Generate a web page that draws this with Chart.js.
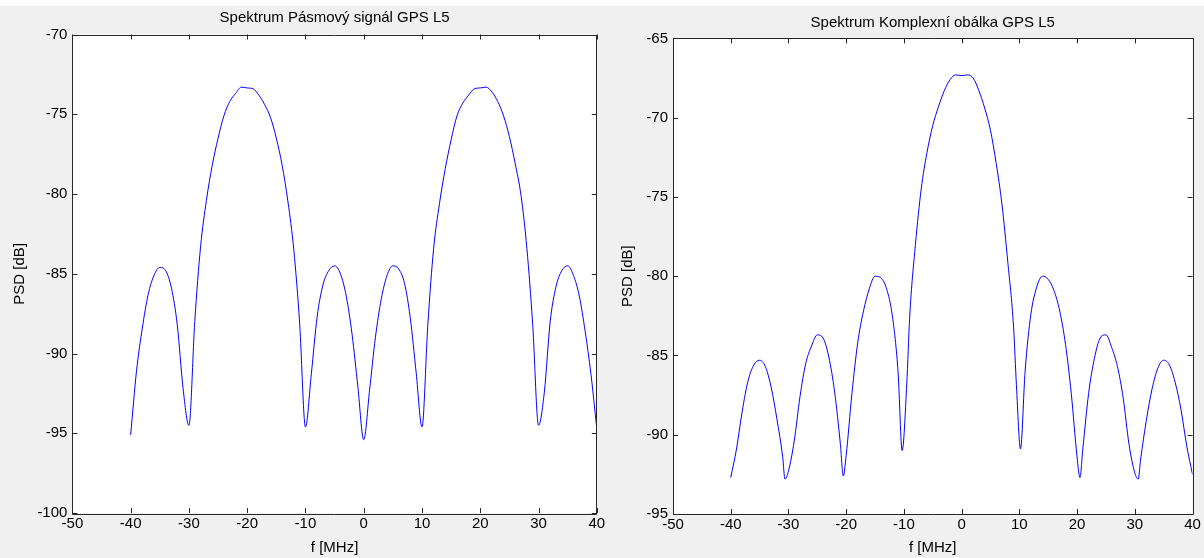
<!DOCTYPE html>
<html>
<head>
<meta charset="utf-8">
<script src="https://cdn.jsdelivr.net/npm/chart.js@4.4.1/dist/chart.umd.min.js"></script>
<style>
  html, body { margin: 0; padding: 0; background: #fff; }
  body { width: 1204px; height: 558px; position: relative; overflow: hidden; }
  .panel { position: absolute; background: #f0f0f0; }
  #panelPass { left: 0; top: 6px; width: 612px; height: 552px; }
  #panelEnv { left: 612px; top: 6px; width: 592px; height: 552px; }
</style>
</head>
<body>
<div class="panel" id="panelPass"><canvas id="chartPass"></canvas></div>
<div class="panel" id="panelEnv"><canvas id="chartEnv"></canvas></div>
<script>
// Spektrum pasmoveho signalu GPS L5 (f in MHz, PSD in dB)
const freqPass = [
  -40, -39, -38, -37, -36, -35, -34, -33, -32, -31,
  -30, -29, -28, -27, -26, -25, -24, -23, -22, -21,
  -20, -19, -18, -17, -16, -15, -14, -13, -12, -11,
  -10, -9, -8, -7, -6, -5, -4, -3, -2, -1,
  0, 1, 2, 3, 4, 5, 6, 7, 8, 9,
  10, 11, 12, 13, 14, 15, 16, 17, 18, 19,
  20, 21, 22, 23, 24, 25, 26, 27, 28, 29,
  30, 31, 32, 33, 34, 35, 36, 37, 38, 39, 40
];
const psdPass = [
  -95.1, -91.1, -88.4, -86.3, -85.1, -84.6, -84.8, -85.9, -88.2, -92.2,
  -94.5, -88.0, -83.3, -80.4, -78.2, -76.5, -75.1, -74.2, -73.7, -73.3,
  -73.35, -73.4, -73.8, -74.4, -75.2, -76.5, -78.2, -80.5, -83.5, -88.1,
  -94.6, -91.3, -87.7, -85.7, -84.8, -84.5, -85.0, -86.4, -88.8, -92.1,
  -95.4, -92.3, -89.0, -86.6, -85.1, -84.5, -84.7, -85.6, -87.8, -91.2,
  -94.6, -88.2, -83.4, -80.6, -78.4, -76.6, -75.1, -74.3, -73.8, -73.4,
  -73.35, -73.3, -73.6, -74.2, -75.1, -76.4, -78.1, -80.1, -83.4, -88.2,
  -94.5, -92.4, -88.0, -85.8, -84.8, -84.5, -85.1, -86.4, -88.6, -91.3, -94.7
];

// Spektrum komplexni obalky GPS L5
const freqEnv = [
  -40, -39, -38, -37, -36, -35, -34, -33, -32, -31, -30.6, -30,
  -29, -28, -27, -26, -25, -24, -23, -22, -21, -20.5, -20,
  -19, -18, -17, -16, -15, -14, -13, -12, -11, -10.3, -9.5,
  -9, -8, -7, -6, -5, -4, -3, -2, -1,
  0, 1, 2, 3, 4, 5, 6, 7, 8, 9,
  9.5, 10.2, 11, 12, 13, 14, 15, 16, 17, 18, 19, 20, 20.5,
  21, 22, 23, 24, 25, 26, 27, 28, 29, 30, 30.6,
  31, 32, 33, 34, 35, 36, 37, 38, 39, 40
];
const psdEnv = [
  -92.7, -90.9, -88.5, -86.6, -85.6, -85.3, -85.7, -87.0, -89.0, -91.4, -92.8, -92.3,
  -90.4, -87.6, -85.5, -84.4, -83.7, -83.9, -85.1, -87.3, -90.6, -92.6, -91.3,
  -87.4, -84.2, -82.2, -80.8, -80.0, -80.1, -80.8, -82.5, -86.1, -91.0, -86.8,
  -82.6, -78.0, -74.5, -72.2, -70.5, -69.3, -68.3, -67.6, -67.3,
  -67.35, -67.3, -67.5, -68.3, -69.4, -70.8, -72.9, -75.5, -79.1, -83.2,
  -86.9, -90.9, -86.0, -82.4, -80.7, -80.0, -80.2, -80.9, -82.2, -84.3, -87.4, -91.4, -92.7,
  -90.9, -87.4, -85.2, -83.9, -83.7, -84.5, -85.7, -87.7, -90.6, -92.4, -92.8,
  -91.6, -89.1, -87.1, -85.8, -85.3, -85.6, -86.7, -88.4, -90.7, -92.5
];

const xTicks = [-50, -40, -30, -20, -10, 0, 10, 20, 30, 40];
const yTicksPass = [-100, -95, -90, -85, -80, -75, -70];
const yTicksEnv = [-95, -90, -85, -80, -75, -70, -65];

const FONT = { family: '"Liberation Sans", Arial, Helvetica, sans-serif', size: 15 };
const INK = '#000';

// MATLAB style box with inward tick marks on all four sides
const matlabBox = {
  id: 'matlabBox',
  beforeDraw(chart) {
    const { ctx, chartArea: a } = chart;
    ctx.save();
    ctx.fillStyle = '#fff';
    ctx.fillRect(a.left, a.top, a.right - a.left, a.bottom - a.top);
    ctx.restore();
  },
  afterDraw(chart) {
    const { ctx, chartArea: a, scales: { x, y } } = chart;
    const len = 5;
    ctx.save();
    ctx.strokeStyle = '#262626';
    ctx.lineWidth = 1;
    ctx.beginPath();
    ctx.rect(Math.round(a.left) + 0.5, Math.round(a.top) + 0.5,
             Math.round(a.right - a.left), Math.round(a.bottom - a.top));
    x.ticks.forEach(t => {
      const px = Math.round(x.getPixelForValue(t.value)) + 0.5;
      ctx.moveTo(px, a.bottom); ctx.lineTo(px, a.bottom - len);
      ctx.moveTo(px, a.top); ctx.lineTo(px, a.top + len);
    });
    y.ticks.forEach(t => {
      const py = Math.round(y.getPixelForValue(t.value)) + 0.5;
      ctx.moveTo(a.left, py); ctx.lineTo(a.left + len, py);
      ctx.moveTo(a.right, py); ctx.lineTo(a.right - len, py);
    });
    ctx.stroke();
    ctx.restore();
  }
};

function makeChart(id, cfg) {
  return new Chart(document.getElementById(id), {
    type: 'line',
    data: {
      datasets: [{
        data: cfg.freq.map((f, i) => ({ x: f, y: cfg.psd[i] })),
        borderColor: '#0000ff',
        borderWidth: 1,
        pointRadius: 0,
        fill: false,
        cubicInterpolationMode: 'monotone'
      }]
    },
    options: {
      responsive: true,
      maintainAspectRatio: false,
      animation: false,
      events: [],
      layout: { padding: { left: 0, right: cfg.padRight, top: 0, bottom: 0 } },
      plugins: {
        legend: { display: false },
        tooltip: { enabled: false },
        title: {
          display: true,
          text: cfg.title,
          fullSize: false,
          color: INK,
          font: { ...FONT, weight: 'normal' },
          padding: cfg.titlePad
        }
      },
      scales: {
        x: {
          type: 'linear',
          min: -50, max: 40,
          afterBuildTicks: s => { s.ticks = xTicks.map(v => ({ value: v })); },
          afterFit: s => { s.height = cfg.xAxisH; },
          grid: { display: false, drawTicks: false },
          border: { display: false },
          ticks: { color: INK, font: FONT, padding: 2, maxRotation: 0 },
          title: { display: true, text: 'f [MHz]', color: INK, font: FONT, padding: { top: 0, bottom: 1 } }
        },
        y: {
          type: 'linear',
          min: cfg.yMin, max: cfg.yMax,
          afterBuildTicks: s => { s.ticks = cfg.yTicks.map(v => ({ value: v })); },
          afterFit: s => { s.width = cfg.yAxisW; },
          grid: { display: false, drawTicks: false },
          border: { display: false },
          ticks: { color: INK, font: FONT, padding: 5 },
          title: { display: true, text: 'PSD [dB]', color: INK, font: FONT, padding: { top: cfg.yTitlePad, bottom: 0 } }
        }
      }
    },
    plugins: [matlabBox]
  });
}

makeChart('chartPass', {
  freq: freqPass, psd: psdPass,
  title: 'Spektrum Pásmový signál GPS L5',
  yMin: -100, yMax: -70, yTicks: yTicksPass,
  padRight: 15.2, titlePad: { top: 3.3, bottom: 7.2 },
  xAxisH: 44.9, yAxisW: 72.4, yTitlePad: 11
});

makeChart('chartEnv', {
  freq: freqEnv, psd: psdEnv,
  title: 'Spektrum Komplexní obálka GPS L5',
  yMin: -95, yMax: -65, yTicks: yTicksEnv,
  padRight: 11.5, titlePad: { top: 7.5, bottom: 6.9 },
  xAxisH: 44, yAxisW: 61, yTitlePad: 7
});
</script>
</body>
</html>
